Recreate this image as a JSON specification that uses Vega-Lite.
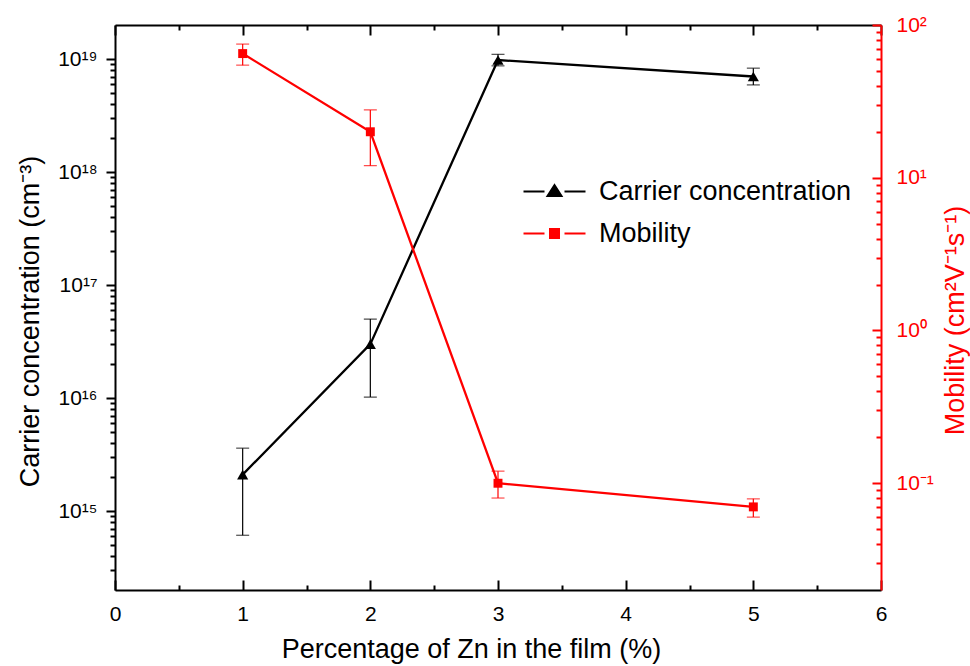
{
  "$schema": "https://vega.github.io/schema/vega-lite/v6.json",
  "width": 766,
  "height": 565,
  "autosize": {"type": "none"},
  "padding": {"left": 115, "top": 25, "right": 89, "bottom": 76},
  "background": "white",
  "config": {
    "view": {"stroke": null},
    "font": "Liberation Sans",
    "axis": {
      "grid": false,
      "labelFont": "Liberation Sans",
      "titleFont": "Liberation Sans",
      "titleFontWeight": "normal",
      "labelFlush": false,
      "labelOverlap": false,
      "labelBound": false,
      "domainWidth": 2,
      "tickWidth": 2,
      "labelFontSize": 21,
      "titleFontSize": 27
    }
  },
  "data": {
    "values": [
      {"pct": 1, "series": "Carrier concentration", "value": 2.1e15, "lo": 6.1e14, "hi": 3.6e15},
      {"pct": 2, "series": "Carrier concentration", "value": 3.0e16, "lo": 1.02e16, "hi": 5.0e16},
      {"pct": 3, "series": "Carrier concentration", "value": 9.8e18, "lo": 8.7e18, "hi": 1.1e19},
      {"pct": 5, "series": "Carrier concentration", "value": 7.0e18, "lo": 5.9e18, "hi": 8.3e18},
      {"pct": 1, "series": "Mobility", "value": 65, "lo": 54.6, "hi": 75},
      {"pct": 2, "series": "Mobility", "value": 20, "lo": 12, "hi": 27.8},
      {"pct": 3, "series": "Mobility", "value": 0.1, "lo": 0.08, "hi": 0.12},
      {"pct": 5, "series": "Mobility", "value": 0.07, "lo": 0.06, "hi": 0.079}
    ]
  },
  "layer": [
    {
      "transform": [{"filter": "datum.series === 'Carrier concentration'"}],
      "layer": [
        {
          "mark": {"type": "line", "strokeWidth": 2.3},
          "encoding": {
            "x": {
              "field": "pct",
              "type": "quantitative",
              "scale": {"domain": [0, 6], "nice": false, "zero": false},
              "axis": {
                "orient": "bottom",
                "values": [0, 0.5, 1, 1.5, 2, 2.5, 3, 3.5, 4, 4.5, 5, 5.5, 6],
                "labelExpr": "datum.value % 1 === 0 ? '' + datum.value : ''",
                "tickSize": {"condition": {"test": "datum.value % 1 === 0", "value": -10}, "value": -5},
                "labelPadding": 23,
                "labelFontSize": 21,
                "domainColor": "#000000",
                "tickColor": "#000000",
                "labelColor": "#000000",
                "titleColor": "#000000",
                "title": "Percentage of Zn in the film (%)",
                "titleX": 356,
                "titleY": 67,
                "titleAlign": "center",
                "titleBaseline": "alphabetic"
              }
            },
            "y": {
              "field": "value",
              "type": "quantitative",
              "scale": {"type": "log", "domain": [2e14, 2e19], "nice": false},
              "axis": {
                "orient": "left",
                "values": [3e14, 4e14, 5e14, 6e14, 7e14, 8e14, 9e14,
                           1e15, 2e15, 3e15, 4e15, 5e15, 6e15, 7e15, 8e15, 9e15,
                           1e16, 2e16, 3e16, 4e16, 5e16, 6e16, 7e16, 8e16, 9e16,
                           1e17, 2e17, 3e17, 4e17, 5e17, 6e17, 7e17, 8e17, 9e17,
                           1e18, 2e18, 3e18, 4e18, 5e18, 6e18, 7e18, 8e18, 9e18,
                           1e19],
                "labelExpr": "datum.value == 1e15 ? '10¹⁵' : datum.value == 1e16 ? '10¹⁶' : datum.value == 1e17 ? '10¹⁷' : datum.value == 1e18 ? '10¹⁸' : datum.value == 1e19 ? '10¹⁹' : ''",
                "tickSize": {"condition": {"test": "indexof([1e15, 1e16, 1e17, 1e18, 1e19], datum.value) >= 0", "value": 9}, "value": 5},
                "labelPadding": 9,
                "labelFontSize": 21,
                "domainColor": "#000000",
                "tickColor": "#000000",
                "labelColor": "#000000",
                "titleColor": "#000000",
                "title": "Carrier concentration (cm⁻³)",
                "titleX": -85,
                "titleY": 296,
                "titleAngle": -90,
                "titleAlign": "center",
                "titleBaseline": "middle"
              }
            },
            "color": {
              "field": "series",
              "type": "nominal",
              "scale": {"domain": ["Carrier concentration", "Mobility"], "range": ["#000000", "#ff0000"]},
              "legend": {
                "orient": "none",
                "legendX": 426,
                "legendY": 153,
                "title": null,
                "padding": 0,
                "symbolSize": 400,
                "symbolStrokeWidth": 2,
                "labelFont": "Liberation Sans",
                "labelFontSize": 27,
                "labelLimit": 500,
                "labelColor": "#000000",
                "labelOffset": 31,
                "rowPadding": 14,
                "encode": {
                  "symbols": {
                    "update": {
                      "shape": {"signal": "datum.value === 'Mobility' ? 'M-3.1,0H-1.0M1.0,0H3.1M-0.45,-0.45H0.45V0.45H-0.45Z' : 'M-3.1,0H-1.0M1.0,0H3.1M-0.7,0.45L0,-0.65L0.7,0.45Z'"},
                      "fill": {"scale": "color", "field": "value"},
                      "stroke": {"scale": "color", "field": "value"},
                      "strokeWidth": {"value": 2},
                      "opacity": {"value": 1}
                    }
                  }
                }
              }
            }
          }
        },
        {
          "mark": {"type": "rule", "color": "#000000", "strokeWidth": 1.2},
          "encoding": {
            "x": {"field": "pct", "type": "quantitative"},
            "y": {"field": "lo", "type": "quantitative"},
            "y2": {"field": "hi"}
          }
        },
        {
          "mark": {"type": "tick", "orient": "horizontal", "color": "#000000", "size": 13, "thickness": 1.2},
          "encoding": {
            "x": {"field": "pct", "type": "quantitative"},
            "y": {"field": "lo", "type": "quantitative"}
          }
        },
        {
          "mark": {"type": "tick", "orient": "horizontal", "color": "#000000", "size": 13, "thickness": 1.2},
          "encoding": {
            "x": {"field": "pct", "type": "quantitative"},
            "y": {"field": "hi", "type": "quantitative"}
          }
        },
        {
          "mark": {"type": "point", "shape": "triangle-up", "filled": true, "size": 125, "color": "#000000", "opacity": 1},
          "encoding": {
            "x": {"field": "pct", "type": "quantitative"},
            "y": {"field": "value", "type": "quantitative"}
          }
        }
      ]
    },
    {
      "transform": [{"filter": "datum.series === 'Mobility'"}],
      "layer": [
        {
          "mark": {"type": "line", "strokeWidth": 2.3},
          "encoding": {
            "x": {
              "field": "pct",
              "type": "quantitative",
              "scale": {"domain": [0, 6], "nice": false, "zero": false},
              "axis": {
                "orient": "top",
                "values": [0, 0.5, 1, 1.5, 2, 2.5, 3, 3.5, 4, 4.5, 5, 5.5, 6],
                "labels": false,
                "tickSize": {"condition": {"test": "datum.value % 1 === 0", "value": -10}, "value": -5},
                "domainColor": "#000000",
                "tickColor": "#000000",
                "title": null
              }
            },
            "y": {
              "field": "value",
              "type": "quantitative",
              "scale": {"type": "log", "domain": [0.02, 100], "nice": false},
              "axis": {
                "orient": "right",
                "values": [0.03, 0.04, 0.05, 0.06, 0.07, 0.08, 0.09,
                           0.1, 0.2, 0.3, 0.4, 0.5, 0.6, 0.7, 0.8, 0.9,
                           1, 2, 3, 4, 5, 6, 7, 8, 9,
                           10, 20, 30, 40, 50, 60, 70, 80, 90, 100],
                "labelExpr": "datum.value == 100 ? '10²' : datum.value == 10 ? '10¹' : datum.value == 1 ? '10⁰' : datum.value == 0.1 ? '10⁻¹' : ''",
                "tickSize": {"condition": {"test": "indexof([0.1, 1, 10, 100], datum.value) >= 0", "value": -9}, "value": -5},
                "labelPadding": 24,
                "labelFontSize": 21,
                "domainColor": "#ff0000",
                "tickColor": "#ff0000",
                "labelColor": "#ff0000",
                "titleColor": "#ff0000",
                "title": "Mobility (cm²V⁻¹s⁻¹)",
                "titleX": 74,
                "titleY": 295,
                "titleAngle": -90,
                "titleAlign": "center",
                "titleBaseline": "middle"
              }
            },
            "color": {
              "field": "series",
              "type": "nominal",
              "scale": {"domain": ["Carrier concentration", "Mobility"], "range": ["#000000", "#ff0000"]}
            }
          }
        },
        {
          "mark": {"type": "rule", "color": "#ff0000", "strokeWidth": 1.2},
          "encoding": {
            "x": {"field": "pct", "type": "quantitative"},
            "y": {"field": "lo", "type": "quantitative"},
            "y2": {"field": "hi"}
          }
        },
        {
          "mark": {"type": "tick", "orient": "horizontal", "color": "#ff0000", "size": 13, "thickness": 1.2},
          "encoding": {
            "x": {"field": "pct", "type": "quantitative"},
            "y": {"field": "lo", "type": "quantitative"}
          }
        },
        {
          "mark": {"type": "tick", "orient": "horizontal", "color": "#ff0000", "size": 13, "thickness": 1.2},
          "encoding": {
            "x": {"field": "pct", "type": "quantitative"},
            "y": {"field": "hi", "type": "quantitative"}
          }
        },
        {
          "mark": {"type": "point", "shape": "square", "filled": true, "size": 80, "color": "#ff0000", "opacity": 1},
          "encoding": {
            "x": {"field": "pct", "type": "quantitative"},
            "y": {"field": "value", "type": "quantitative"}
          }
        }
      ]
    }
  ],
  "resolve": {"scale": {"y": "independent"}, "axis": {"x": "independent"}}
}
